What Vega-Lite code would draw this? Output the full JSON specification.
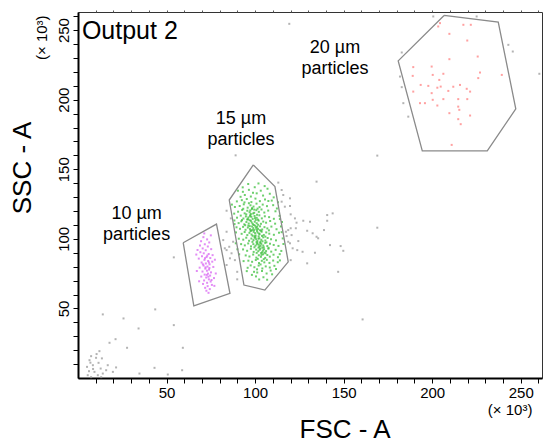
{
  "$schema": "https://vega.github.io/schema/vega-lite/v6.json",
  "width": 464,
  "height": 366,
  "autosize": {"type": "none"},
  "padding": {"left": 78, "top": 12, "right": 5, "bottom": 64},
  "config": {
    "view": {"stroke": "#333", "strokeWidth": 1},
    "font": "Liberation Sans"
  },
  "datasets": {
    "gates": [
      {"gate": "g10", "o": 1, "x": 59.4, "y": 97.2},
      {"gate": "g10", "o": 2, "x": 78.2, "y": 110.6},
      {"gate": "g10", "o": 3, "x": 85.8, "y": 60.8},
      {"gate": "g10", "o": 4, "x": 65.4, "y": 51.9},
      {"gate": "g10", "o": 5, "x": 59.4, "y": 97.2},
      {"gate": "g15", "o": 1, "x": 99.0, "y": 153.1},
      {"gate": "g15", "o": 2, "x": 111.2, "y": 137.5},
      {"gate": "g15", "o": 3, "x": 118.7, "y": 83.5},
      {"gate": "g15", "o": 4, "x": 105.5, "y": 63.2},
      {"gate": "g15", "o": 5, "x": 93.7, "y": 66.8},
      {"gate": "g15", "o": 6, "x": 85.4, "y": 127.9},
      {"gate": "g15", "o": 7, "x": 99.0, "y": 153.1},
      {"gate": "g20", "o": 1, "x": 206.7, "y": 260.5},
      {"gate": "g20", "o": 2, "x": 237.3, "y": 255.8},
      {"gate": "g20", "o": 3, "x": 247.2, "y": 193.4},
      {"gate": "g20", "o": 4, "x": 231.1, "y": 163.2},
      {"gate": "g20", "o": 5, "x": 194.4, "y": 163.2},
      {"gate": "g20", "o": 6, "x": 180.8, "y": 227.9},
      {"gate": "g20", "o": 7, "x": 206.7, "y": 260.5}
    ],
    "labels": [
      {"x": 33.1, "y": 114.5, "t": "10 µm\nparticles", "s": 18},
      {"x": 92.0, "y": 182.3, "t": "15 µm\nparticles", "s": 18},
      {"x": 145.1, "y": 233.4, "t": "20 µm\nparticles", "s": 18},
      {"x": 244.0, "y": -26.8, "t": "(× 10³)", "s": 15}
    ],
    "title": [
      {"x": 2.2, "y": 243.7, "t": "Output 2"}
    ],
    "ylabel": [
      {"x": -20.2, "y": 244.5, "t": "(× 10³)"}
    ],
    "pts": [
      {"p": "gray", "x": 14.0, "y": 45.7}, {"p": "gray", "x": 25.7, "y": 42.8}, {"p": "gray", "x": 43.6, "y": 49.3}, {"p": "gray", "x": 34.2, "y": 35.6}, {"p": "gray", "x": 54.1, "y": 38.0}, {"p": "gray", "x": 17.8, "y": 25.3}, {"p": "gray", "x": 21.2, "y": 27.9}, {"p": "gray", "x": 27.7, "y": 21.7}, {"p": "gray", "x": 59.2, "y": 21.7}, {"p": "gray", "x": 12.1, "y": 19.3}, {"p": "gray", "x": 7.4, "y": 15.7}, {"p": "gray", "x": 10.2, "y": 14.5}, {"p": "gray", "x": 6.5, "y": 12.8}, {"p": "gray", "x": 11.6, "y": 10.9}, {"p": "gray", "x": 8.4, "y": 9.2}, {"p": "gray", "x": 16.8, "y": 9.2}, {"p": "gray", "x": 5.1, "y": 8.0}, {"p": "gray", "x": 21.5, "y": 7.6}, {"p": "gray", "x": 43.2, "y": 7.3}, {"p": "gray", "x": 15.9, "y": 5.6}, {"p": "gray", "x": 9.3, "y": 4.4}, {"p": "gray", "x": 19.7, "y": 4.4}, {"p": "gray", "x": 34.7, "y": 3.2}, {"p": "gray", "x": 50.7, "y": 2.5}, {"p": "gray", "x": 58.8, "y": 5.6}, {"p": "gray", "x": 5.5, "y": 2.0}, {"p": "gray", "x": 11.2, "y": 2.0}, {"p": "gray", "x": 7.4, "y": 0.6}, {"p": "gray", "x": 13.1, "y": 0.6}, {"p": "gray", "x": 14.0, "y": 3.2}, {"p": "gray", "x": 54.1, "y": 86.7}, {"p": "gray", "x": 8.5, "y": 6.5}, {"p": "gray", "x": 6.2, "y": 4.9}, {"p": "gray", "x": 12.8, "y": 6.8}, {"p": "gray", "x": 10.5, "y": 17.2}, {"p": "gray", "x": 13.5, "y": 14.1}, {"p": "gray", "x": 7.0, "y": 11.0},
      {"p": "gray", "x": 83.9, "y": 120.2}, {"p": "gray", "x": 86.3, "y": 114.7}, {"p": "gray", "x": 83.9, "y": 105.1}, {"p": "gray", "x": 85.4, "y": 94.3}, {"p": "gray", "x": 83.9, "y": 91.9}, {"p": "gray", "x": 86.7, "y": 89.6}, {"p": "gray", "x": 88.6, "y": 84.7}, {"p": "gray", "x": 89.9, "y": 76.3}, {"p": "gray", "x": 89.9, "y": 70.9}, {"p": "gray", "x": 87.6, "y": 97.9}, {"p": "gray", "x": 82.0, "y": 99.1}, {"p": "gray", "x": 82.9, "y": 93.2}, {"p": "gray", "x": 85.8, "y": 86.0}, {"p": "gray", "x": 83.9, "y": 81.2},
      {"p": "gray", "x": 113.1, "y": 140.4}, {"p": "gray", "x": 134.7, "y": 141.1}, {"p": "gray", "x": 115.0, "y": 135.1}, {"p": "gray", "x": 115.9, "y": 131.5}, {"p": "gray", "x": 119.7, "y": 129.1}, {"p": "gray", "x": 115.0, "y": 126.7}, {"p": "gray", "x": 119.7, "y": 123.6}, {"p": "gray", "x": 143.8, "y": 118.3}, {"p": "gray", "x": 140.7, "y": 117.1}, {"p": "gray", "x": 120.1, "y": 117.6}, {"p": "gray", "x": 122.5, "y": 114.7}, {"p": "gray", "x": 127.2, "y": 113.0}, {"p": "gray", "x": 131.0, "y": 112.3}, {"p": "gray", "x": 140.7, "y": 113.0}, {"p": "gray", "x": 123.4, "y": 111.6}, {"p": "gray", "x": 169.0, "y": 108.0}, {"p": "gray", "x": 120.1, "y": 107.6}, {"p": "gray", "x": 123.0, "y": 107.6}, {"p": "gray", "x": 129.4, "y": 105.8}, {"p": "gray", "x": 138.9, "y": 106.3}, {"p": "gray", "x": 117.4, "y": 105.1}, {"p": "gray", "x": 117.8, "y": 102.0}, {"p": "gray", "x": 132.5, "y": 104.0}, {"p": "gray", "x": 134.7, "y": 101.5}, {"p": "gray", "x": 135.6, "y": 100.4}, {"p": "gray", "x": 119.7, "y": 96.8}, {"p": "gray", "x": 124.4, "y": 98.4}, {"p": "gray", "x": 142.3, "y": 95.5}, {"p": "gray", "x": 148.3, "y": 94.8}, {"p": "gray", "x": 121.2, "y": 93.2}, {"p": "gray", "x": 123.8, "y": 91.9}, {"p": "gray", "x": 126.8, "y": 90.7}, {"p": "gray", "x": 133.8, "y": 90.0}, {"p": "gray", "x": 149.8, "y": 91.4}, {"p": "gray", "x": 120.1, "y": 84.7}, {"p": "gray", "x": 129.4, "y": 82.4}, {"p": "gray", "x": 146.9, "y": 76.3}, {"p": "gray", "x": 160.7, "y": 42.1}, {"p": "gray", "x": 116.8, "y": 123.1}, {"p": "gray", "x": 118.7, "y": 106.3}, {"p": "gray", "x": 120.6, "y": 102.7}, {"p": "gray", "x": 118.7, "y": 97.9},
      {"p": "gray", "x": 89.0, "y": 160.0}, {"p": "gray", "x": 169.0, "y": 159.8}, {"p": "gray", "x": 260.5, "y": 218.6}, {"p": "gray", "x": 119.3, "y": 254.5},
      {"p": "gray", "x": 182.8, "y": 233.9}, {"p": "gray", "x": 181.8, "y": 216.6}, {"p": "gray", "x": 182.8, "y": 209.0}, {"p": "gray", "x": 183.7, "y": 197.5}, {"p": "gray", "x": 186.5, "y": 187.8}, {"p": "gray", "x": 243.0, "y": 239.4}, {"p": "gray", "x": 245.5, "y": 234.6}, {"p": "gray", "x": 200.6, "y": 259.8}, {"p": "gray", "x": 225.1, "y": 259.8},
      {"p": "pink", "x": 204.4, "y": 255.0}, {"p": "pink", "x": 203.4, "y": 252.6}, {"p": "pink", "x": 217.6, "y": 253.8}, {"p": "pink", "x": 221.8, "y": 253.8}, {"p": "pink", "x": 209.7, "y": 247.3}, {"p": "pink", "x": 219.8, "y": 242.5}, {"p": "pink", "x": 225.7, "y": 231.0}, {"p": "pink", "x": 209.7, "y": 229.1}, {"p": "pink", "x": 199.7, "y": 223.8}, {"p": "pink", "x": 189.3, "y": 223.4}, {"p": "pink", "x": 227.0, "y": 219.5}, {"p": "pink", "x": 226.0, "y": 215.5}, {"p": "pink", "x": 200.3, "y": 217.8}, {"p": "pink", "x": 206.3, "y": 218.6}, {"p": "pink", "x": 189.0, "y": 217.1}, {"p": "pink", "x": 204.0, "y": 214.2}, {"p": "pink", "x": 239.3, "y": 217.8}, {"p": "pink", "x": 215.7, "y": 210.6}, {"p": "pink", "x": 204.8, "y": 209.4}, {"p": "pink", "x": 197.8, "y": 209.9}, {"p": "pink", "x": 193.5, "y": 210.6}, {"p": "pink", "x": 202.9, "y": 208.6}, {"p": "pink", "x": 211.9, "y": 209.3}, {"p": "pink", "x": 209.1, "y": 206.3}, {"p": "pink", "x": 219.5, "y": 207.8}, {"p": "pink", "x": 221.4, "y": 205.8}, {"p": "pink", "x": 189.3, "y": 205.8}, {"p": "pink", "x": 199.7, "y": 204.7}, {"p": "pink", "x": 193.1, "y": 197.5}, {"p": "pink", "x": 195.9, "y": 197.5}, {"p": "pink", "x": 200.3, "y": 199.9}, {"p": "pink", "x": 206.3, "y": 200.4}, {"p": "pink", "x": 214.7, "y": 200.4}, {"p": "pink", "x": 219.8, "y": 200.4}, {"p": "pink", "x": 202.9, "y": 195.8}, {"p": "pink", "x": 214.7, "y": 195.0}, {"p": "pink", "x": 215.3, "y": 192.7}, {"p": "pink", "x": 209.7, "y": 190.3}, {"p": "pink", "x": 221.4, "y": 188.6}, {"p": "pink", "x": 214.7, "y": 186.0}, {"p": "pink", "x": 216.1, "y": 182.4}, {"p": "pink", "x": 211.0, "y": 167.5},
      {"p": "mag", "x": 70.8, "y": 101.2}, {"p": "mag", "x": 72.9, "y": 99.6}, {"p": "mag", "x": 69.5, "y": 98.3}, {"p": "mag", "x": 74.1, "y": 97.4}, {"p": "mag", "x": 71.6, "y": 96.1}, {"p": "mag", "x": 68.9, "y": 95.2}, {"p": "mag", "x": 73.3, "y": 94.5}, {"p": "mag", "x": 70.4, "y": 93.1}, {"p": "mag", "x": 75.2, "y": 92.6}, {"p": "mag", "x": 72.1, "y": 91.8}, {"p": "mag", "x": 69.1, "y": 90.4}, {"p": "mag", "x": 71.0, "y": 89.6}, {"p": "mag", "x": 73.8, "y": 89.1}, {"p": "mag", "x": 76.0, "y": 88.3}, {"p": "mag", "x": 70.0, "y": 87.5}, {"p": "mag", "x": 72.6, "y": 86.9}, {"p": "mag", "x": 74.7, "y": 86.2}, {"p": "mag", "x": 68.2, "y": 85.8}, {"p": "mag", "x": 71.4, "y": 84.9}, {"p": "mag", "x": 73.5, "y": 84.1}, {"p": "mag", "x": 75.8, "y": 83.6}, {"p": "mag", "x": 69.8, "y": 83.0}, {"p": "mag", "x": 72.2, "y": 82.3}, {"p": "mag", "x": 74.3, "y": 81.7}, {"p": "mag", "x": 70.9, "y": 80.8}, {"p": "mag", "x": 73.1, "y": 80.1}, {"p": "mag", "x": 76.4, "y": 79.8}, {"p": "mag", "x": 68.7, "y": 79.3}, {"p": "mag", "x": 71.9, "y": 78.6}, {"p": "mag", "x": 74.0, "y": 77.9}, {"p": "mag", "x": 72.8, "y": 77.1}, {"p": "mag", "x": 70.3, "y": 76.5}, {"p": "mag", "x": 75.1, "y": 75.9}, {"p": "mag", "x": 73.4, "y": 75.0}, {"p": "mag", "x": 71.5, "y": 74.3}, {"p": "mag", "x": 74.6, "y": 73.6}, {"p": "mag", "x": 69.6, "y": 72.9}, {"p": "mag", "x": 72.4, "y": 72.2}, {"p": "mag", "x": 76.8, "y": 71.8}, {"p": "mag", "x": 73.9, "y": 70.9}, {"p": "mag", "x": 71.2, "y": 70.1}, {"p": "mag", "x": 74.9, "y": 69.3}, {"p": "mag", "x": 72.9, "y": 68.4}, {"p": "mag", "x": 70.6, "y": 67.6}, {"p": "mag", "x": 75.6, "y": 66.9}, {"p": "mag", "x": 73.2, "y": 66.0}, {"p": "mag", "x": 71.8, "y": 64.8}, {"p": "mag", "x": 74.4, "y": 63.9}, {"p": "mag", "x": 72.5, "y": 62.7}, {"p": "mag", "x": 73.7, "y": 61.2}, {"p": "mag", "x": 67.5, "y": 92.0}, {"p": "mag", "x": 77.3, "y": 85.0}, {"p": "mag", "x": 67.1, "y": 76.9}, {"p": "mag", "x": 77.8, "y": 75.1}, {"p": "mag", "x": 66.8, "y": 88.7}, {"p": "mag", "x": 75.0, "y": 102.5}, {"p": "mag", "x": 71.3, "y": 103.9}, {"p": "mag", "x": 73.0, "y": 88.0}, {"p": "mag", "x": 71.7, "y": 86.1}, {"p": "mag", "x": 73.9, "y": 83.0}, {"p": "mag", "x": 72.0, "y": 79.5}, {"p": "mag", "x": 74.2, "y": 79.0}, {"p": "mag", "x": 70.5, "y": 81.7}, {"p": "mag", "x": 73.6, "y": 72.8}, {"p": "mag", "x": 72.7, "y": 74.1}, {"p": "mag", "x": 75.4, "y": 70.4}, {"p": "mag", "x": 68.4, "y": 69.5}, {"p": "mag", "x": 77.0, "y": 66.2},
      {"p": "green", "x": 96.5, "y": 135.2}, {"p": "green", "x": 99.8, "y": 137.1}, {"p": "green", "x": 103.2, "y": 134.6}, {"p": "green", "x": 93.1, "y": 133.8}, {"p": "green", "x": 107.0, "y": 136.0},
      {"p": "green", "x": 94.2, "y": 131.5}, {"p": "green", "x": 97.6, "y": 130.4}, {"p": "green", "x": 100.9, "y": 132.7}, {"p": "green", "x": 104.5, "y": 131.1}, {"p": "green", "x": 91.8, "y": 130.2}, {"p": "green", "x": 108.3, "y": 132.4}, {"p": "green", "x": 98.8, "y": 133.1},
      {"p": "green", "x": 92.5, "y": 127.8}, {"p": "green", "x": 95.3, "y": 128.6}, {"p": "green", "x": 97.9, "y": 126.4}, {"p": "green", "x": 100.2, "y": 128.9}, {"p": "green", "x": 102.7, "y": 127.1}, {"p": "green", "x": 105.6, "y": 128.3}, {"p": "green", "x": 89.7, "y": 126.9}, {"p": "green", "x": 109.4, "y": 127.5}, {"p": "green", "x": 94.0, "y": 126.2},
      {"p": "green", "x": 91.3, "y": 123.6}, {"p": "green", "x": 93.6, "y": 124.8}, {"p": "green", "x": 95.8, "y": 122.4}, {"p": "green", "x": 97.4, "y": 124.1}, {"p": "green", "x": 99.1, "y": 123.2}, {"p": "green", "x": 100.8, "y": 125.3}, {"p": "green", "x": 102.5, "y": 122.8}, {"p": "green", "x": 104.3, "y": 124.6}, {"p": "green", "x": 106.7, "y": 123.5}, {"p": "green", "x": 110.2, "y": 124.2}, {"p": "green", "x": 88.6, "y": 122.9}, {"p": "green", "x": 96.5, "y": 125.6}, {"p": "green", "x": 98.3, "y": 122.1},
      {"p": "green", "x": 90.4, "y": 119.5}, {"p": "green", "x": 92.7, "y": 120.8}, {"p": "green", "x": 94.1, "y": 118.3}, {"p": "green", "x": 95.6, "y": 120.2}, {"p": "green", "x": 96.9, "y": 119.1}, {"p": "green", "x": 98.2, "y": 121.4}, {"p": "green", "x": 99.5, "y": 118.7}, {"p": "green", "x": 100.7, "y": 120.6}, {"p": "green", "x": 102.1, "y": 119.4}, {"p": "green", "x": 103.6, "y": 121.1}, {"p": "green", "x": 105.2, "y": 118.9}, {"p": "green", "x": 107.4, "y": 120.3}, {"p": "green", "x": 111.5, "y": 119.8}, {"p": "green", "x": 93.3, "y": 121.6}, {"p": "green", "x": 97.6, "y": 117.9}, {"p": "green", "x": 101.4, "y": 121.7}, {"p": "green", "x": 95.0, "y": 117.6},
      {"p": "green", "x": 89.8, "y": 115.2}, {"p": "green", "x": 91.9, "y": 116.7}, {"p": "green", "x": 93.4, "y": 114.6}, {"p": "green", "x": 94.8, "y": 116.1}, {"p": "green", "x": 96.2, "y": 115.4}, {"p": "green", "x": 97.3, "y": 117.0}, {"p": "green", "x": 98.6, "y": 114.3}, {"p": "green", "x": 99.7, "y": 116.4}, {"p": "green", "x": 100.9, "y": 115.1}, {"p": "green", "x": 102.4, "y": 116.9}, {"p": "green", "x": 103.8, "y": 114.7}, {"p": "green", "x": 105.5, "y": 116.2}, {"p": "green", "x": 107.9, "y": 115.6}, {"p": "green", "x": 110.6, "y": 114.4}, {"p": "green", "x": 95.5, "y": 113.9}, {"p": "green", "x": 97.9, "y": 115.8}, {"p": "green", "x": 101.6, "y": 113.8}, {"p": "green", "x": 113.8, "y": 116.5}, {"p": "green", "x": 92.6, "y": 113.5},
      {"p": "green", "x": 90.7, "y": 111.3}, {"p": "green", "x": 92.2, "y": 112.6}, {"p": "green", "x": 93.9, "y": 110.4}, {"p": "green", "x": 95.1, "y": 112.1}, {"p": "green", "x": 96.4, "y": 111.0}, {"p": "green", "x": 97.6, "y": 112.9}, {"p": "green", "x": 98.7, "y": 110.6}, {"p": "green", "x": 99.8, "y": 112.3}, {"p": "green", "x": 100.9, "y": 111.2}, {"p": "green", "x": 102.0, "y": 113.1}, {"p": "green", "x": 103.3, "y": 110.8}, {"p": "green", "x": 104.6, "y": 112.4}, {"p": "green", "x": 106.2, "y": 111.6}, {"p": "green", "x": 108.5, "y": 112.8}, {"p": "green", "x": 111.3, "y": 110.9}, {"p": "green", "x": 96.9, "y": 113.4}, {"p": "green", "x": 99.3, "y": 109.9}, {"p": "green", "x": 101.7, "y": 110.1}, {"p": "green", "x": 94.4, "y": 109.8}, {"p": "green", "x": 115.2, "y": 112.1}, {"p": "green", "x": 88.4, "y": 110.6},
      {"p": "green", "x": 91.5, "y": 107.2}, {"p": "green", "x": 93.2, "y": 108.6}, {"p": "green", "x": 94.6, "y": 106.5}, {"p": "green", "x": 95.9, "y": 108.1}, {"p": "green", "x": 97.1, "y": 107.0}, {"p": "green", "x": 98.3, "y": 108.9}, {"p": "green", "x": 99.4, "y": 106.3}, {"p": "green", "x": 100.5, "y": 108.2}, {"p": "green", "x": 101.6, "y": 107.1}, {"p": "green", "x": 102.8, "y": 109.0}, {"p": "green", "x": 104.0, "y": 106.7}, {"p": "green", "x": 105.3, "y": 108.4}, {"p": "green", "x": 106.9, "y": 107.5}, {"p": "green", "x": 109.2, "y": 108.8}, {"p": "green", "x": 112.1, "y": 106.9}, {"p": "green", "x": 97.8, "y": 105.9}, {"p": "green", "x": 100.1, "y": 109.4}, {"p": "green", "x": 103.4, "y": 105.8}, {"p": "green", "x": 96.2, "y": 109.5}, {"p": "green", "x": 107.8, "y": 106.1}, {"p": "green", "x": 89.5, "y": 108.3},
      {"p": "green", "x": 92.4, "y": 103.6}, {"p": "green", "x": 94.1, "y": 104.9}, {"p": "green", "x": 95.6, "y": 102.7}, {"p": "green", "x": 96.8, "y": 104.3}, {"p": "green", "x": 98.0, "y": 103.1}, {"p": "green", "x": 99.2, "y": 105.0}, {"p": "green", "x": 100.3, "y": 102.4}, {"p": "green", "x": 101.4, "y": 104.5}, {"p": "green", "x": 102.5, "y": 103.3}, {"p": "green", "x": 103.7, "y": 105.1}, {"p": "green", "x": 104.9, "y": 102.8}, {"p": "green", "x": 106.3, "y": 104.6}, {"p": "green", "x": 108.0, "y": 103.7}, {"p": "green", "x": 110.6, "y": 102.9}, {"p": "green", "x": 113.5, "y": 104.4}, {"p": "green", "x": 99.8, "y": 101.9}, {"p": "green", "x": 102.0, "y": 101.8}, {"p": "green", "x": 97.4, "y": 105.6}, {"p": "green", "x": 105.8, "y": 101.6}, {"p": "green", "x": 101.1, "y": 105.7},
      {"p": "green", "x": 93.3, "y": 99.4}, {"p": "green", "x": 95.0, "y": 100.8}, {"p": "green", "x": 96.6, "y": 98.6}, {"p": "green", "x": 97.9, "y": 100.2}, {"p": "green", "x": 99.1, "y": 99.1}, {"p": "green", "x": 100.2, "y": 101.0}, {"p": "green", "x": 101.3, "y": 98.4}, {"p": "green", "x": 102.4, "y": 100.4}, {"p": "green", "x": 103.5, "y": 99.3}, {"p": "green", "x": 104.6, "y": 101.1}, {"p": "green", "x": 105.8, "y": 98.8}, {"p": "green", "x": 107.1, "y": 100.6}, {"p": "green", "x": 109.0, "y": 99.7}, {"p": "green", "x": 111.8, "y": 98.9}, {"p": "green", "x": 100.8, "y": 97.6}, {"p": "green", "x": 103.0, "y": 97.9}, {"p": "green", "x": 98.5, "y": 97.8}, {"p": "green", "x": 106.4, "y": 97.5}, {"p": "green", "x": 90.8, "y": 100.1}, {"p": "green", "x": 115.6, "y": 100.3},
      {"p": "green", "x": 94.2, "y": 95.3}, {"p": "green", "x": 96.1, "y": 96.7}, {"p": "green", "x": 97.7, "y": 94.6}, {"p": "green", "x": 99.0, "y": 96.2}, {"p": "green", "x": 100.2, "y": 95.1}, {"p": "green", "x": 101.3, "y": 97.0}, {"p": "green", "x": 102.4, "y": 94.4}, {"p": "green", "x": 103.5, "y": 96.4}, {"p": "green", "x": 104.6, "y": 95.2}, {"p": "green", "x": 105.7, "y": 97.1}, {"p": "green", "x": 106.9, "y": 94.8}, {"p": "green", "x": 108.4, "y": 96.5}, {"p": "green", "x": 110.5, "y": 95.6}, {"p": "green", "x": 113.2, "y": 94.9}, {"p": "green", "x": 101.9, "y": 93.7}, {"p": "green", "x": 104.1, "y": 93.6}, {"p": "green", "x": 99.6, "y": 93.9}, {"p": "green", "x": 92.1, "y": 96.2}, {"p": "green", "x": 107.6, "y": 93.5},
      {"p": "green", "x": 95.5, "y": 91.4}, {"p": "green", "x": 97.6, "y": 92.8}, {"p": "green", "x": 99.2, "y": 90.6}, {"p": "green", "x": 100.6, "y": 92.3}, {"p": "green", "x": 101.8, "y": 91.1}, {"p": "green", "x": 102.9, "y": 93.0}, {"p": "green", "x": 104.0, "y": 90.4}, {"p": "green", "x": 105.1, "y": 92.5}, {"p": "green", "x": 106.2, "y": 91.2}, {"p": "green", "x": 107.5, "y": 92.9}, {"p": "green", "x": 109.1, "y": 90.8}, {"p": "green", "x": 111.6, "y": 92.1}, {"p": "green", "x": 103.4, "y": 89.8}, {"p": "green", "x": 105.9, "y": 89.6}, {"p": "green", "x": 100.9, "y": 89.9}, {"p": "green", "x": 114.8, "y": 91.3}, {"p": "green", "x": 93.2, "y": 92.4},
      {"p": "green", "x": 96.8, "y": 87.3}, {"p": "green", "x": 98.9, "y": 88.7}, {"p": "green", "x": 100.7, "y": 86.5}, {"p": "green", "x": 102.1, "y": 88.2}, {"p": "green", "x": 103.3, "y": 87.1}, {"p": "green", "x": 104.5, "y": 88.9}, {"p": "green", "x": 105.7, "y": 86.3}, {"p": "green", "x": 106.9, "y": 88.4}, {"p": "green", "x": 108.3, "y": 87.2}, {"p": "green", "x": 110.4, "y": 88.6}, {"p": "green", "x": 112.9, "y": 86.8}, {"p": "green", "x": 101.5, "y": 85.6}, {"p": "green", "x": 104.9, "y": 85.4}, {"p": "green", "x": 94.7, "y": 88.1},
      {"p": "green", "x": 98.3, "y": 83.5}, {"p": "green", "x": 100.4, "y": 84.8}, {"p": "green", "x": 102.2, "y": 82.6}, {"p": "green", "x": 103.8, "y": 84.2}, {"p": "green", "x": 105.2, "y": 83.1}, {"p": "green", "x": 106.6, "y": 84.9}, {"p": "green", "x": 108.1, "y": 82.7}, {"p": "green", "x": 110.2, "y": 84.4}, {"p": "green", "x": 103.1, "y": 81.6}, {"p": "green", "x": 96.2, "y": 84.3}, {"p": "green", "x": 112.8, "y": 83.2},
      {"p": "green", "x": 99.6, "y": 79.6}, {"p": "green", "x": 102.0, "y": 80.8}, {"p": "green", "x": 104.1, "y": 78.7}, {"p": "green", "x": 106.0, "y": 80.2}, {"p": "green", "x": 108.3, "y": 79.4}, {"p": "green", "x": 101.1, "y": 78.1}, {"p": "green", "x": 110.9, "y": 80.6}, {"p": "green", "x": 97.5, "y": 80.9},
      {"p": "green", "x": 101.2, "y": 75.8}, {"p": "green", "x": 103.9, "y": 76.9}, {"p": "green", "x": 106.5, "y": 75.1}, {"p": "green", "x": 99.4, "y": 76.3}, {"p": "green", "x": 108.8, "y": 77.2}, {"p": "green", "x": 104.7, "y": 72.4}, {"p": "green", "x": 102.3, "y": 70.8},
      {"p": "green", "x": 97.2, "y": 116.3}, {"p": "green", "x": 98.9, "y": 118.2}, {"p": "green", "x": 96.0, "y": 114.1}, {"p": "green", "x": 99.9, "y": 114.9}, {"p": "green", "x": 98.1, "y": 111.7}, {"p": "green", "x": 100.4, "y": 113.6}, {"p": "green", "x": 97.0, "y": 109.1}, {"p": "green", "x": 99.0, "y": 107.7}, {"p": "green", "x": 101.2, "y": 108.6}, {"p": "green", "x": 100.0, "y": 104.1}, {"p": "green", "x": 102.7, "y": 106.2}, {"p": "green", "x": 98.6, "y": 102.2}, {"p": "green", "x": 101.9, "y": 100.1}, {"p": "green", "x": 103.9, "y": 102.1}, {"p": "green", "x": 100.6, "y": 99.7}, {"p": "green", "x": 102.9, "y": 97.1}, {"p": "green", "x": 104.2, "y": 98.2}, {"p": "green", "x": 103.1, "y": 95.0}, {"p": "green", "x": 101.0, "y": 96.1}, {"p": "green", "x": 104.9, "y": 93.9}, {"p": "green", "x": 102.6, "y": 92.2}, {"p": "green", "x": 104.4, "y": 91.6}, {"p": "green", "x": 103.6, "y": 88.5}, {"p": "green", "x": 105.3, "y": 90.1}, {"p": "green", "x": 99.5, "y": 121.0}, {"p": "green", "x": 97.3, "y": 120.4}, {"p": "green", "x": 101.1, "y": 117.3}, {"p": "green", "x": 98.4, "y": 106.4}, {"p": "green", "x": 100.7, "y": 106.9}, {"p": "green", "x": 102.3, "y": 103.8}, {"p": "green", "x": 99.7, "y": 100.8}, {"p": "green", "x": 102.1, "y": 95.8},
      {"p": "green", "x": 88.2, "y": 118.1}, {"p": "green", "x": 89.2, "y": 104.6}, {"p": "green", "x": 89.1, "y": 96.8}, {"p": "green", "x": 91.0, "y": 88.9}, {"p": "green", "x": 93.5, "y": 84.0}, {"p": "green", "x": 95.8, "y": 79.2}, {"p": "green", "x": 98.2, "y": 74.1}, {"p": "green", "x": 112.3, "y": 121.8}, {"p": "green", "x": 114.6, "y": 108.9}, {"p": "green", "x": 116.0, "y": 96.3}, {"p": "green", "x": 113.9, "y": 89.0}, {"p": "green", "x": 111.8, "y": 78.3}, {"p": "green", "x": 109.6, "y": 74.5}, {"p": "green", "x": 106.8, "y": 70.6}, {"p": "green", "x": 96.1, "y": 139.4}, {"p": "green", "x": 101.9, "y": 139.8}, {"p": "green", "x": 105.4, "y": 137.9}, {"p": "green", "x": 90.3, "y": 134.6}, {"p": "green", "x": 110.5, "y": 129.8}, {"p": "green", "x": 112.9, "y": 126.3}, {"p": "green", "x": 88.3, "y": 113.2}, {"p": "green", "x": 86.9, "y": 124.6}, {"p": "green", "x": 114.0, "y": 114.2}, {"p": "green", "x": 95.3, "y": 76.8}, {"p": "green", "x": 107.5, "y": 127.2}, {"p": "green", "x": 93.0, "y": 137.0}, {"p": "green", "x": 115.0, "y": 104.8}, {"p": "green", "x": 90.0, "y": 92.5}, {"p": "green", "x": 114.0, "y": 84.5}, {"p": "green", "x": 100.5, "y": 73.0}
    ]
  },
  "resolve": {"axis": {"x": "independent", "y": "independent"}},
  "layer": [
    {
      "data": {"name": "pts"},
      "mark": {"type": "point", "shape": "square", "filled": true, "size": 4, "opacity": 0.75},
      "encoding": {
        "x": {
          "field": "x", "type": "quantitative",
          "scale": {"domain": [0, 262], "nice": false, "zero": false},
          "axis": {
            "orient": "bottom",
            "values": [10, 20, 30, 40, 50, 60, 70, 80, 90, 100, 110, 120, 130, 140, 150, 160, 170, 180, 190, 200, 210, 220, 230, 240, 250, 260],
            "labelExpr": "datum.value % 50 === 0 ? datum.label : ''",
            "grid": false, "tickSize": 5, "tickColor": "#000", "tickWidth": 1,
            "domainColor": "#000", "domainWidth": 2,
            "labelFont": "Liberation Sans", "labelFontSize": 15, "labelColor": "#000", "labelPadding": 2,
            "labelFlush": false, "labelOverlap": false,
            "title": "FSC - A", "titleFont": "Liberation Sans", "titleFontSize": 26, "titleFontWeight": "normal", "titleColor": "#000",
            "titleX": 266.5, "titleY": 59, "titleAlign": "center", "titleBaseline": "alphabetic"
          }
        },
        "y": {
          "field": "y", "type": "quantitative",
          "scale": {"domain": [0, 263], "nice": false, "zero": false},
          "axis": {
            "orient": "left",
            "values": [10, 20, 30, 40, 50, 60, 70, 80, 90, 100, 110, 120, 130, 140, 150, 160, 170, 180, 190, 200, 210, 220, 230, 240, 250, 260],
            "labelExpr": "datum.value % 50 === 0 ? datum.label : ''",
            "grid": false, "tickSize": 5, "tickColor": "#000", "tickWidth": 1,
            "domainColor": "#000", "domainWidth": 2,
            "labelFont": "Liberation Sans", "labelFontSize": 15, "labelColor": "#000", "labelPadding": 2,
            "labelAngle": -90, "labelAlign": "center", "labelBaseline": "bottom",
            "labelFlush": false, "labelOverlap": false,
            "title": "SSC - A", "titleFont": "Liberation Sans", "titleFontSize": 26, "titleFontWeight": "normal", "titleColor": "#000",
            "titleX": -56, "titleY": 155.5, "titleAngle": -90, "titleAlign": "center", "titleBaseline": "middle"
          }
        },
        "color": {
          "field": "p", "type": "nominal",
          "scale": {"domain": ["gray", "pink", "mag", "green"], "range": ["#9a9a9a", "#ff8080", "#d866f2", "#3cbf3c"]},
          "legend": null
        }
      }
    },
    {
      "data": {"name": "gates"},
      "mark": {"type": "line", "color": "#8a8a8a", "strokeWidth": 1.3},
      "encoding": {
        "x": {
          "field": "x", "type": "quantitative",
          "scale": {"domain": [0, 262], "nice": false, "zero": false},
          "axis": {
            "orient": "top",
            "values": [10, 20, 30, 40, 50, 60, 70, 80, 90, 100, 110, 120, 130, 140, 150, 160, 170, 180, 190, 200, 210, 220, 230, 240, 250, 260],
            "labels": false, "domain": false, "grid": false, "tickSize": 2, "tickColor": "#555", "title": null
          }
        },
        "y": {"field": "y", "type": "quantitative", "scale": {"domain": [0, 263], "nice": false, "zero": false}, "axis": null},
        "detail": {"field": "gate"},
        "order": {"field": "o", "type": "quantitative"}
      }
    },
    {
      "data": {"name": "labels"},
      "mark": {"type": "text", "font": "Liberation Sans", "color": "#000", "align": "center", "baseline": "alphabetic", "lineBreak": "\n", "lineHeight": 21},
      "encoding": {
        "x": {"field": "x", "type": "quantitative", "scale": {"domain": [0, 262], "nice": false, "zero": false}, "axis": null},
        "y": {"field": "y", "type": "quantitative", "scale": {"domain": [0, 263], "nice": false, "zero": false}, "axis": null},
        "text": {"field": "t"},
        "size": {"field": "s", "type": "quantitative", "scale": null}
      }
    },
    {
      "data": {"name": "title"},
      "mark": {"type": "text", "font": "Liberation Sans", "color": "#000", "align": "left", "baseline": "alphabetic", "fontSize": 25},
      "encoding": {
        "x": {"field": "x", "type": "quantitative", "scale": {"domain": [0, 262], "nice": false, "zero": false}, "axis": null},
        "y": {"field": "y", "type": "quantitative", "scale": {"domain": [0, 263], "nice": false, "zero": false}, "axis": null},
        "text": {"field": "t"}
      }
    },
    {
      "data": {"name": "ylabel"},
      "mark": {"type": "text", "font": "Liberation Sans", "color": "#000", "fontSize": 15, "angle": 270, "align": "center", "baseline": "middle"},
      "encoding": {
        "x": {"field": "x", "type": "quantitative", "scale": {"domain": [0, 262], "nice": false, "zero": false}, "axis": null},
        "y": {"field": "y", "type": "quantitative", "scale": {"domain": [0, 263], "nice": false, "zero": false}, "axis": null},
        "text": {"field": "t"}
      }
    }
  ]
}
